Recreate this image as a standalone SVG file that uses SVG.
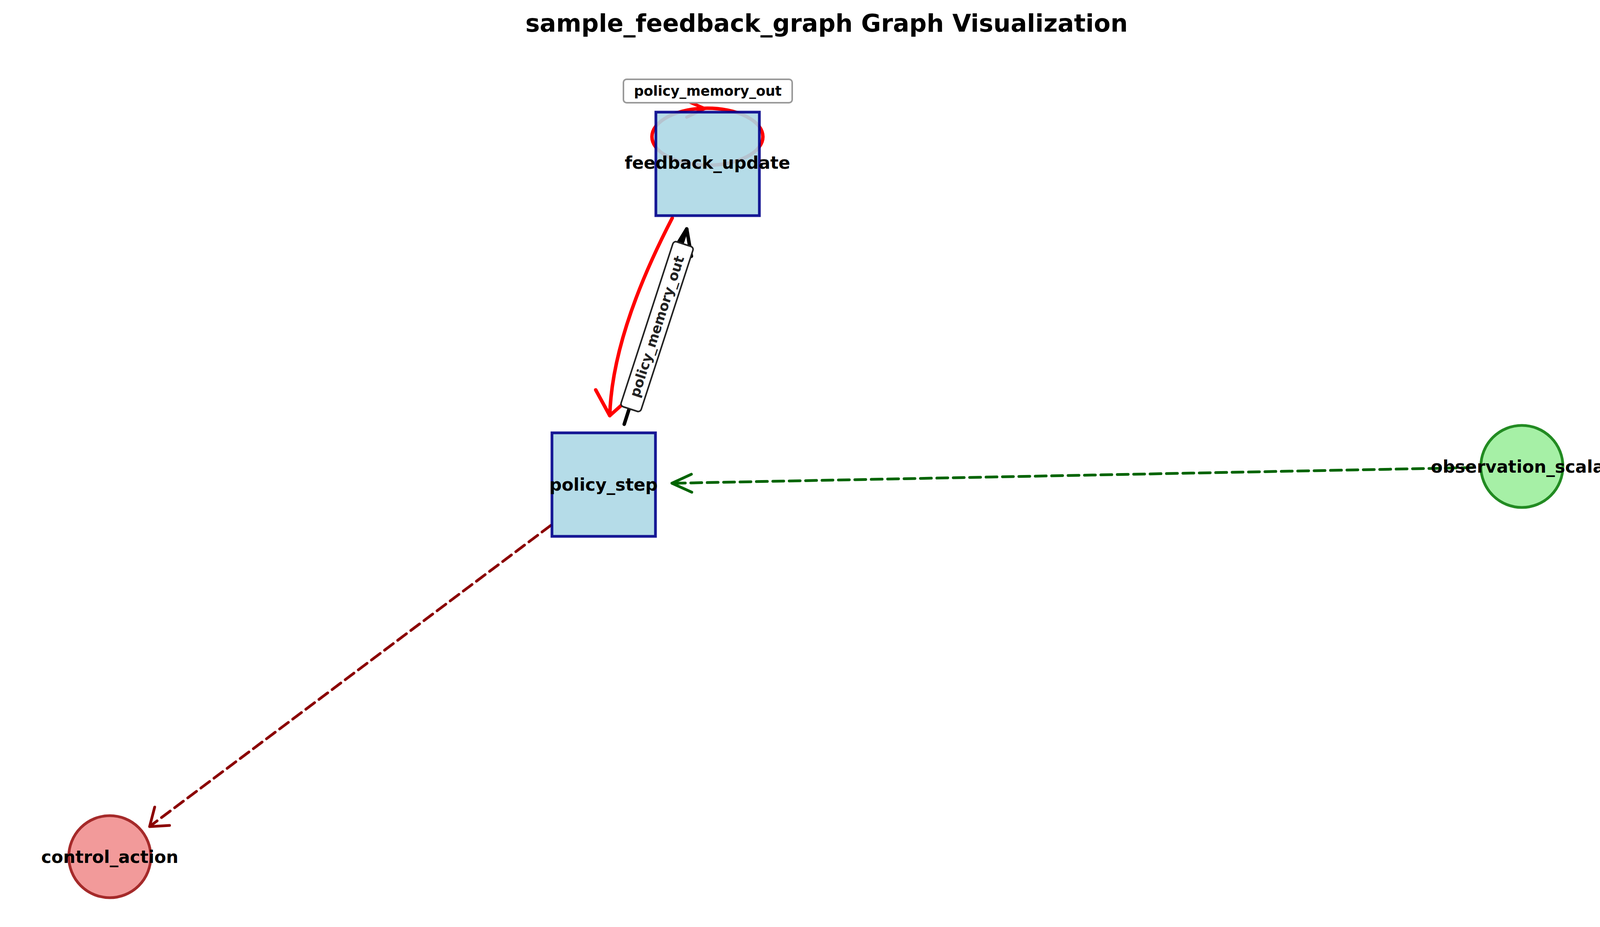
<svg xmlns="http://www.w3.org/2000/svg" width="4837" height="2373" viewBox="0 0 4837 2373">
<style>
text{font-family:"DejaVu Sans","Noto Sans",sans-serif}
.nl{font-size:44px;font-weight:bold;text-anchor:middle;dominant-baseline:central}
.box{fill:#add8e6;fill-opacity:0.9;stroke:#00008b;stroke-width:7;stroke-opacity:0.9}
.lg{font-size:41px;dominant-baseline:central}
.el{font-size:35px;font-weight:bold;text-anchor:middle;dominant-baseline:central}
</style>
<rect width="4837" height="2373" fill="#fff"/>
<text x="2116" y="59" font-size="62" font-weight="bold" text-anchor="middle" dominant-baseline="central">sample_feedback_graph Graph Visualization</text>
<g id="connectors" fill="none" stroke-linecap="round" stroke-linejoin="round">
<ellipse cx="1811" cy="350" rx="142" ry="73" stroke="#ff0000" stroke-width="9"/>
<path d="M1758,258 L1804,278 L1758,300" stroke="#ff0000" stroke-width="8"/>
<path d="M1721,558 Q1567,855 1561,1064" stroke="#ff0000" stroke-width="9"/>
<path d="M1525,998 L1561,1064 L1616,1015" stroke="#ff0000" stroke-width="9"/>
<path d="M1598,1086 L1758,586" stroke="#000" stroke-width="9"/>
<path d="M1720,648 L1758,586 L1770,656 Z" stroke="#000" stroke-width="9"/>
<path d="M3770,1197 L1725,1237" stroke="#006400" stroke-width="7" stroke-dasharray="28,14"/>
<path d="M1770,1214 L1720,1237 L1771,1260" stroke="#006400" stroke-width="7"/>
<path d="M1410,1345 L388,2112" stroke="#8b0000" stroke-width="7" stroke-dasharray="28,14"/>
<path d="M396,2066 L383,2116 L434,2113" stroke="#8b0000" stroke-width="7"/>
</g>
<g id="feedback_update">
<rect class="box" x="1679" y="287" width="265" height="265"/>
<text class="nl" x="1811" y="416">feedback_update</text>
</g>
<g id="policy_step">
<rect class="box" x="1413" y="1108" width="265" height="265"/>
<text class="nl" x="1545" y="1240">policy_step</text>
</g>
<g id="observation_scalar">
<circle cx="3896" cy="1194" r="105" fill="#a6f0a6" stroke="#228b22" stroke-width="7"/>
<text class="nl" x="3896" y="1194">observation_scalar</text>
</g>
<g id="control_action">
<circle cx="281" cy="2193" r="105" fill="#f29a9a" stroke="#a52a2a" stroke-width="7"/>
<text class="nl" x="281" y="2193">control_action</text>
</g>
<g id="edge-labels">
<rect x="1596" y="203" width="432" height="60" rx="8" fill="#fff" stroke="#999" stroke-width="4"/>
<text class="el" x="1812" y="233">policy_memory_out</text>
<g transform="translate(1682,836) rotate(-72)">
<rect x="-222" y="-27" width="444" height="54" rx="8" fill="#fff" stroke="#222" stroke-width="4"/>
<text class="el" x="0" y="0" fill="#222">policy_memory_out</text>
</g>
</g>
<g id="legend">
<rect x="4188" y="185" width="623" height="453" rx="10" fill="#fff" stroke="#d5d5d5" stroke-width="4"/>
<rect x="4204" y="204" width="87" height="33" fill="#add8e6"/>
<rect x="4204" y="267" width="87" height="33" fill="#90ee90"/>
<rect x="4204" y="330" width="87" height="33" fill="#f08080"/>
<line x1="4202" y1="409" x2="4293" y2="409" stroke="#000" stroke-width="8"/>
<line x1="4202" y1="472" x2="4293" y2="472" stroke="#ff0000" stroke-width="8"/>
<line x1="4206" y1="535" x2="4290" y2="535" stroke="#008000" stroke-width="7" stroke-dasharray="18,15"/>
<line x1="4206" y1="598" x2="4290" y2="598" stroke="#8b0000" stroke-width="7" stroke-dasharray="18,15"/>
<text class="lg" x="4325" y="220">Computation Nodes</text>
<text class="lg" x="4325" y="283">Graph Inputs</text>
<text class="lg" x="4325" y="346">Graph Outputs</text>
<text class="lg" x="4325" y="409">Internal Connections</text>
<text class="lg" x="4325" y="472">Feedback Connections</text>
<text class="lg" x="4325" y="535">Input Connections</text>
<text class="lg" x="4325" y="598">Output Connections</text>
</g>
</svg>
